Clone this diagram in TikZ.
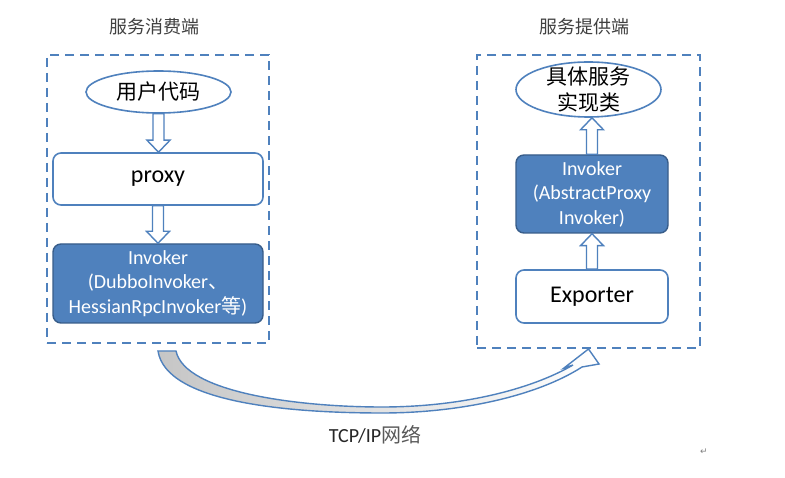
\documentclass[tikz,border=0pt]{standalone}
\usepackage{fontspec}
\setmainfont{Carlito}
\newfontfamily\cjk{Noto Sans CJK SC}
\newfontfamily\symfont{DejaVu Sans}
\usetikzlibrary{positioning}
\usetikzlibrary{shapes}
\definecolor{officeblue}{RGB}{79,129,189}
\definecolor{darkblue}{RGB}{56,93,138}
\definecolor{titlegray}{RGB}{64,64,64}
\definecolor{labelgray}{RGB}{89,89,89}
\tikzset{
        boxnode/.style={align=center,inner sep=0pt},
        % Titles above the two sides
        node_title/.style={boxnode, text=titlegray, font=\cjk\fontsize{18}{22}\selectfont},
        % Dashed frames
        node_frame/.style={boxnode, rectangle, draw=officeblue, line width=2pt, dash pattern=on 9pt off 6pt},
        % Ellipse nodes
        node_ellipse/.style={boxnode, ellipse, draw=officeblue, line width=1.6pt, fill=white, minimum width=145pt, font=\cjk\fontsize{21}{26}\selectfont},
        % Plain boxes
        node_plain/.style={boxnode, rectangle, rounded corners=8pt, draw=officeblue, line width=1.6pt, fill=white, font=\fontsize{24}{28}\selectfont},
        % Invoker boxes
        node_invoker/.style={boxnode, rectangle, rounded corners=8pt, draw=darkblue, line width=1.4pt, fill=officeblue, text=white, font=\fontsize{20}{24.5}\selectfont},
        % Hollow block arrows
        block_arrow/.style={draw=officeblue, line width=1.4pt, fill=white, line join=miter},
        % Network arrow
        net_arrow/.style={draw=officeblue, line width=1.4pt, left color=gray!45, middle color=white, right color=white}
}
% hollow arrow between two nodes, #3 = 1 down, -1 up
\newcommand{\blockarrow}[3]{%
  \coordinate (ba_from) at (#1);
  \coordinate (ba_to) at (#1 |- #2);
  \draw[block_arrow] ([xshift=-5.5pt]ba_from) -- ([xshift=-5.5pt,yshift=#3*12pt]ba_to) -- ([xshift=-11.5pt,yshift=#3*12pt]ba_to) -- (ba_to) -- ([xshift=11.5pt,yshift=#3*12pt]ba_to) -- ([xshift=5.5pt,yshift=#3*12pt]ba_to) -- ([xshift=5.5pt]ba_from) -- cycle;}

\begin{document}
\begin{tikzpicture}[x=1pt, y=-1pt]
    \fill[white] (0,0) rectangle (785,478);
    \useasboundingbox (0,0) rectangle (785,478);

    % consumer side
    \node[node_title] (title_consumer) at (154,27) {服务消费端};
    \node[node_frame, minimum width=222pt, minimum height=288pt] (consumer_box) at (158,199) {};
    \node[node_ellipse, minimum height=42pt] (user_code) at (158.5,92) {用户代码};
    \node[node_plain, minimum width=210pt, minimum height=52pt] (proxy) at (158,179) {proxy};
    \node[node_invoker, minimum width=210pt, minimum height=79pt] (consumer_invoker) at (158,283.5)
        {Invoker\\(DubboInvoker{\cjk 、}\\HessianRpcInvoker{\cjk 等})};

    % provider side
    \node[node_title] (title_provider) at (584,27) {服务提供端};
    \node[node_frame, minimum width=223pt, minimum height=293pt] (provider_box) at (588.5,201.5) {};
    \node[node_ellipse, minimum height=55pt, inner ysep=-6pt] (service_impl) at (588.5,89.5) {具体服务\\实现类};
    \node[node_invoker, minimum width=152pt, minimum height=78pt] (provider_invoker) at (592,194)
        {Invoker\\(AbstractProxy\\Invoker)};
    \node[node_plain, minimum width=152pt, minimum height=53pt] (exporter) at (592,296.5) {Exporter};

    \blockarrow{user_code.south}{proxy.north}{1}
    \blockarrow{proxy.south}{consumer_invoker.north}{1}
    \blockarrow{exporter.north}{provider_invoker.south}{-1}
    \blockarrow{provider_invoker.north}{service_impl.south}{-1}

    % network call
    \path (consumer_box.south) ++(0,7) coordinate (net_from);
    \coordinate (net_to) at (provider_box.south);
    \draw[net_arrow] (net_from) -- ++(18,0)
        .. controls (185,393) and (300,407) .. (382,407)
        .. controls (460,407) and (530,390) .. (573,365)
        -- (564,368) -- (net_to) -- (599,364) -- (582,367)
        .. controls (537,396) and (460,413) .. (382,413)
        .. controls (290,413) and (166,403) .. (net_from) -- cycle;
    \node[text={rgb,255:red,38;green,38;blue,38}, font=\fontsize{20}{23}\selectfont] (net_label) at (375,435) {TCP/IP{\cjk\color{labelgray}网络}};
    \node[text=gray, font=\symfont\fontsize{9}{9}\selectfont] (para_mark) at (704,452) {↵};
\end{tikzpicture}
\end{document}
